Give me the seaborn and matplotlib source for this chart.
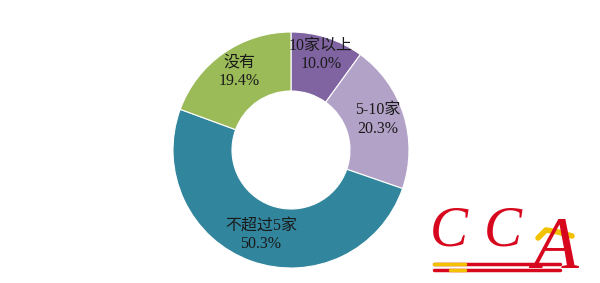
import matplotlib
matplotlib.use("Agg")
import matplotlib.pyplot as plt
import seaborn as sns
import numpy as np

categories = ["10家以上", "5-10家", "不超过5家", "没有"]
values = [10.0, 20.3, 50.3, 19.4]
pct_labels = ["10.0%", "20.3%", "50.3%", "19.4%"]
colors = ["#8064A2", "#B3A2C7", "#31859C", "#9BBB59"]

sns.set_theme(style="white")
plt.rcParams['font.family'] = ['Liberation Serif', 'Noto Sans CJK SC']

W, H = 600, 283
fig = plt.figure(figsize=(W / 100, H / 100), dpi=100)
cx, cy, R = 291, 150, 118
ax = fig.add_axes([(cx - R) / W, (H - cy - R) / H, 2 * R / W, 2 * R / H])

labels = [f"{c}\n{p}" for c, p in zip(categories, pct_labels)]
wedges, texts = ax.pie(values, labels=labels, colors=colors, startangle=90,
                       counterclock=False, labeldistance=0.76,
                       wedgeprops=dict(width=0.5, edgecolor="white", linewidth=0.8),
                       textprops=dict(fontsize=11.5, color="#1a1a1a", linespacing=1.2))
for t in texts:
    t.set_ha("center")
    t.set_va("center")
# small nudges of label placement (style only)
nudges = [(0.02, 0.08), (0.01, 0.03), (0.0, 0.0), (0.0, 0.04)]
for t, (dx, dy) in zip(texts, nudges):
    x, y = t.get_position()
    t.set_position((x + dx, y + dy))
ax.set_aspect("equal")
ax.set_xlim(-1, 1)
ax.set_ylim(-1, 1)
ax.axis("off")

# CCA logo approximation
red = "#D7081E"
yellow = "#F2C200"
lax = fig.add_axes([0, 0, 1, 1], facecolor="none")
lax.set_xlim(0, W)
lax.set_ylim(H, 0)
lax.axis("off")
lax.text(430, 246, "C", color=red, fontsize=41, fontstyle="italic",
         family="Liberation Serif", ha="left", va="baseline")
lax.text(484, 246, "C", color=red, fontsize=41, fontstyle="italic",
         family="Liberation Serif", ha="left", va="baseline")
lax.text(532, 268, "A", color=red, fontsize=54, fontstyle="italic",
         family="Liberation Serif", ha="left", va="baseline")
lax.plot([538, 546, 558, 572], [238, 230, 232, 236], color=yellow, lw=4,
         solid_capstyle="round")
lax.plot([434, 560], [264, 264], color=red, lw=2.5)
lax.plot([434, 560], [270, 270], color=red, lw=2.5)
lax.plot([434, 465], [264, 264], color=yellow, lw=2.5)
lax.plot([450, 465], [270, 270], color=yellow, lw=2.5)

fig.savefig("out.png", dpi=100)
